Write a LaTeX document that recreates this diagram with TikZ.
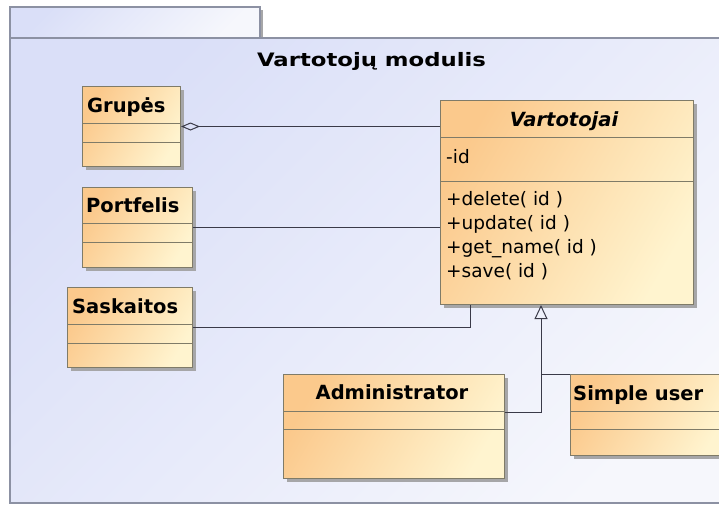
\documentclass[tikz,border=0pt]{standalone}
\usepackage{fontspec}
\setmainfont{DejaVu Sans}
\newfontfamily\titlefont[FakeStretch=1.23]{DejaVu Sans}
\usetikzlibrary{arrows.meta}

\definecolor{pkgA}{HTML}{DADFF8}
\definecolor{pkgB}{HTML}{F6F7FC}
\definecolor{pkgline}{HTML}{8C91A3}
\definecolor{boxA}{HTML}{FBC98C}
\definecolor{boxM}{HTML}{FDDCA8}
\definecolor{boxB}{HTML}{FFF4CF}
\definecolor{boxline}{HTML}{7F7B68}
\definecolor{boxshade}{HTML}{A6A6A8}
\definecolor{wire}{HTML}{3A3A48}

% one UML class: name, x, y, width, height, first divider, second divider
\newcommand\umlclass[7]{%
  \fill[boxshade] (#2+4,#3+4) rectangle ++(#4,#5);
  \node[classbox, minimum width=#4pt, minimum height=#5pt, anchor=north west] (#1) at (#2,#3) {};
  \draw[divider] (#2,#3+#6) -- ++(#4,0);
  \draw[divider] (#2,#3+#7) -- ++(#4,0);
}

\begin{document}
\begin{tikzpicture}[x=1pt,y=-1pt,
  classbox/.style={draw=boxline, line width=1pt, inner sep=0pt,
    top color=boxA, middle color=boxM, bottom color=boxB, shading angle=60},
  divider/.style={draw=boxline, line width=1pt},
  cname/.style={inner sep=0pt, font=\fontsize{19.5}{23}\selectfont\bfseries},
  member/.style={inner sep=0pt, anchor=base west, font=\fontsize{18.5}{24}\selectfont},
  wirestyle/.style={draw=wire, line width=1pt},
  pkgstyle/.style={draw=pkgline, line width=1.1pt, top color=pkgA, bottom color=pkgB, shading angle=45}
]
\useasboundingbox (0,0) rectangle (719,504);
\fill[white] (0,0) rectangle (719,504);

% package tab and body
\fill[boxshade] (260,10) rectangle (263,38);
\path[pkgstyle] (10,7) rectangle (260,38);
\path[pkgstyle] (10,38) rectangle (760,503);
\node[inner sep=0pt, anchor=base, font=\titlefont\fontsize{18.5}{22}\selectfont\bfseries]
  (pkgname) at (371.5,66) {Vartotojų modulis};

% classes
\umlclass{grupes}{82}{86}{98}{80}{37}{56}
\umlclass{port}{82}{187}{110}{80}{36}{55}
\umlclass{sask}{67}{287}{125}{80}{37}{56}
\umlclass{vart}{440}{100}{253}{204}{37}{81}
\umlclass{admin}{283}{374}{221}{104}{37}{55}
\umlclass{simple}{570}{374}{160}{81}{37}{55}

\node[cname, anchor=base west] (grupes-name) at (87,112) {Grupės};
\node[cname, anchor=base west] (port-name) at (86,212) {Portfelis};
\node[cname, anchor=base west] (sask-name) at (72,313) {Saskaitos};
\node[cname, anchor=base, font=\fontsize{19.5}{23}\selectfont\bfseries\itshape] (vart-name) at (564,126) {Vartotojai};
\node[cname, anchor=base] (admin-name) at (392,399) {Administrator};
\node[cname, anchor=base west] (simple-name) at (573,400) {Simple user};

\node[member] (vart-id) at (446,163) {-id};
\node[member] (op1) at (446,205) {+delete( id )};
\node[member] (op2) at (446,229) {+update( id )};
\node[member] (op3) at (446,253) {+get\_name( id )};
\node[member] (op4) at (446,277) {+save( id )};

% relations
\draw[wirestyle, {Diamond[open, length=19pt, width=8pt, line width=1pt]}-]
  (grupes.east) -- (grupes.east -| vart.west);
\draw[wirestyle] (port.east) -- (port.east -| vart.west);
\draw[wirestyle] (sask.east) -| ([xshift=30pt]vart.south west);
\coordinate (gtip) at ([xshift=101pt]vart.south west);
\draw[wirestyle, -{Triangle[open, length=14pt, width=13pt, line width=1pt]}]
  ([yshift=-38pt]admin.north east) -| (gtip);
\draw[wirestyle] (simple.north west) -- (simple.north west -| gtip);
\end{tikzpicture}
\end{document}
